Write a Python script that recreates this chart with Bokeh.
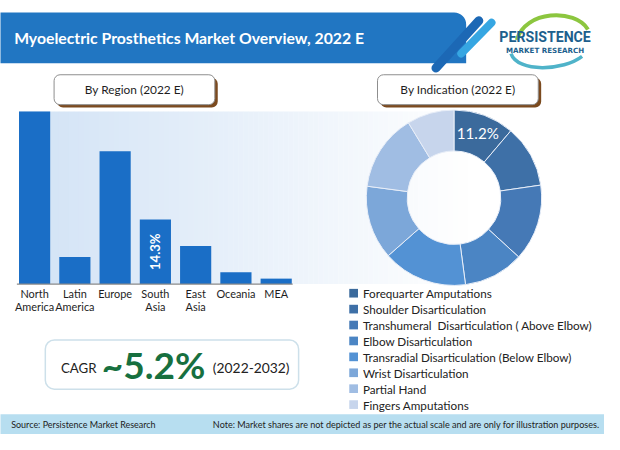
import numpy as np
from bokeh.plotting import figure
from bokeh.models import Range1d
from bokeh.core.properties import value
from bokeh.embed import file_html
from bokeh.resources import INLINE

# ---------------- data ----------------
title_text = "Myoelectric Prosthetics Market Overview, 2022 E"
region_title = "By Region (2022 E)"
indication_title = "By Indication (2022 E)"

regions = ["North America", "Latin America", "Europe", "South Asia", "East Asia", "Oceania", "MEA"]
region_label_lines = [["North", "America"], ["Latin", "America"], ["Europe"], ["South", "Asia"],
                      ["East", "Asia"], ["Oceania"], ["MEA"]]
region_share = [38.2, 6.0, 29.4, 14.3, 8.4, 2.6, 1.2]
region_highlight = "South Asia"

indications = ["Forequarter Amputations", "Shoulder Disarticulation",
               "Transhumeral\u00a0 Disarticulation ( Above Elbow)", "Elbow Disarticulation",
               "Transradial Disarticulation (Below Elbow)", "Wrist Disarticulation",
               "Partial Hand", "Fingers Amputations"]
indication_share = [11.2, 11.5, 14.1, 11.1, 15.6, 13.6, 14.2, 8.7]
indication_colors = ["#3b6a9c", "#3e70a7", "#4579b6", "#4b85c4", "#5392d4", "#7ca7d9", "#a0bde3", "#c7d5ec"]
indication_highlight = 0

cagr_value = "~5.2%"
cagr_period = "(2022-2032)"
source_text = "Source: Persistence Market Research"
note_text = "Note: Market shares are not depicted as per the actual scale and are only for illustration purposes."

FONT = "Lato"
W, H = 620, 450
PW, PH = 604, 434
S = PW / W          # pixel scale of the design


def Y(y):
    return H - y


def fs(px):
    return f"{px * S:.2f}px"


p = figure(width=PW, height=PH, x_range=Range1d(0, W), y_range=Range1d(0, H),
           output_backend="svg", toolbar_location=None, min_border=0)
p.axis.visible = False
p.grid.visible = False
p.outline_line_color = None
p.background_fill_color = "white"
p.border_fill_color = "white"


def txt(x, y, s, size, color="#222222", bold=False, align="left", baseline="middle", angle=0.0,
        font=FONT, **kw):
    p.text(x=[x], y=[Y(y)], text=[s], text_font=value(font), text_font_size=fs(size),
           text_color=color, text_font_style="bold" if bold else "normal",
           text_align=align, text_baseline=baseline, angle=angle, **kw)


# ---------------- header ----------------
p.quad(left=[-5], right=[478], top=[Y(12.5)], bottom=[Y(65)], fill_color="#2176c2",
       line_color=None, border_radius=(0, 12, 0, 0))
p.segment(x0=[447], y0=[Y(70)], x1=[491], y1=[Y(21)], line_color="#1c68b5", line_width=9,
          line_cap="round")
p.segment(x0=[473], y0=[Y(55)], x1=[504], y1=[Y(23)], line_color="#36a6e2", line_width=8,
          line_cap="round")
txt(14, 38.5, title_text, 16.2, color="white", bold=True)

# logo
p.bezier(x0=[530], y0=[Y(41)], x1=[603], y1=[Y(30)], cx0=[538], cy0=[Y(10)], cx1=[590], cy1=[Y(8)],
         line_color="#8cc63f", line_width=4)
p.bezier(x0=[524], y0=[Y(55)], x1=[597], y1=[Y(58)], cx0=[531], cy0=[Y(75)], cx1=[578], cy1=[Y(73)],
         line_color="#4fb3c9", line_width=3.5)
txt(559, 38, "PERSISTENCE", 14.5, color="#1d5f8d", bold=True, align="center", font="Roboto")
txt(559, 51.5, "MARKET RESEARCH", 7.3, color="#1d5f8d", bold=True, align="center", font="DejaVu Sans")

# section title boxes
for (l, r, label) in [(55, 220, region_title), (387, 552, indication_title)]:
    p.quad(left=[l + 3], right=[r + 3], top=[Y(80)], bottom=[Y(111)], fill_color="#7b4a1f",
           line_color=None, border_radius=6)
    p.quad(left=[l], right=[r], top=[Y(77)], bottom=[Y(108)], fill_color="white",
           line_color="#8e8e8e", line_width=1, border_radius=6)
    txt((l + r) / 2, 92, label, 12.2, color="#1e1e1e", align="center")

# gradient panel behind the charts
n = 90
edges = np.linspace(19, 480, n + 1)
c0 = np.array([210, 227, 246])
c1 = np.array([255, 255, 255])
cols = []
for i in range(n):
    t = (i + 0.5) / n
    c = (c0 + (c1 - c0) * t).astype(int)
    cols.append("#%02x%02x%02x" % tuple(c))
p.quad(left=edges[:-1], right=edges[1:] + 0.3, top=Y(115), bottom=Y(294), fill_color=cols,
       line_color=None)

# ---------------- bar chart (own scales) ----------------
PX_PER_PCT = 4.685       # design pixels per percentage point
BASE = Y(294)            # baseline in main coordinates
STEP = 41.33             # design pixels per category
FIRST = 35.0             # centre of first bar
p.extra_y_ranges = {"pct": Range1d((0 - BASE) / PX_PER_PCT, (H - BASE) / PX_PER_PCT)}
p.extra_x_ranges = {"cat": Range1d((0 - FIRST) / STEP, (W - FIRST) / STEP)}

idx = list(range(len(regions)))
p.vbar(x=idx, top=region_share, bottom=0, width=32 / STEP, fill_color="#1a6ec6", line_color=None,
       x_range_name="cat", y_range_name="pct")
p.line(x=[-0.44, len(regions) - 0.59], y=[0, 0], line_color="#8a8a8a", line_width=1.3,
       x_range_name="cat", y_range_name="pct")

lx, ly_off, lt = [], [], []
for i, lines in enumerate(region_label_lines):
    for j, s in enumerate(lines):
        lx.append(i)
        ly_off.append(j)
        lt.append(s)
for row in sorted(set(ly_off)):
    sel = [k for k in range(len(lt)) if ly_off[k] == row]
    p.text(x=[lx[k] for k in sel], y=[0] * len(sel), text=[lt[k] for k in sel],
           text_font=value(FONT), text_font_size=fs(11.2), text_color="#1e1e1e",
           text_align="center", text_baseline="middle", y_offset=(9.5 + 14 * row) * PH / H,
           x_range_name="cat", y_range_name="pct")

hi = regions.index(region_highlight)
p.text(x=[hi], y=[region_share[hi] / 2], text=[f"{region_share[hi]}%"], angle=np.pi / 2,
       text_font=value(FONT), text_font_size=fs(13.5), text_font_style="bold", text_color="white",
       text_align="center", text_baseline="middle", x_range_name="cat", y_range_name="pct")

# ---------------- donut ----------------
CX, CY = 465.5, Y(204.5)
R_OUT, R_IN = 90, 48
shares = np.array(indication_share)
frac = shares / shares.sum()
cum = np.concatenate([[0], np.cumsum(frac)])
start = np.pi / 2 - 2 * np.pi * cum[:-1]
end = np.pi / 2 - 2 * np.pi * cum[1:]
p.annular_wedge(x=CX, y=CY, inner_radius=R_IN, outer_radius=R_OUT, start_angle=start,
                end_angle=end, direction="clock", fill_color=indication_colors,
                line_color="#e8eef8", line_width=1)
mid = (start[indication_highlight] + end[indication_highlight]) / 2
rm = (R_IN + R_OUT) / 2 + 2
p.text(x=[CX + rm * np.cos(mid)], y=[CY + rm * np.sin(mid)],
       text=[f"{indication_share[indication_highlight]}%"], text_font=value(FONT),
       text_font_size=fs(15.5), text_color="white", text_align="center", text_baseline="middle")

# legend
LY0, LDY = 303.5, 16.5
for i, (name, col) in enumerate(zip(indications, indication_colors)):
    yy = LY0 + LDY * i
    p.quad(left=[358], right=[367], top=[Y(yy - 4.5)], bottom=[Y(yy + 4.5)], fill_color=col,
           line_color=None)
    txt(372, yy, name, 12, color="#222222")

# ---------------- CAGR box ----------------
p.quad(left=[46], right=[306], top=[Y(352)], bottom=[Y(403)], fill_color="white",
       line_color="#cde0ea", line_width=1.5, border_radius=9)
txt(62, 381, "CAGR", 13.6, color="#222222")
txt(104, 377, cagr_value, 38, color="#17703f", bold=True)
txt(218, 381, cagr_period, 14.2, color="#222222")

# ---------------- footer ----------------
p.quad(left=[-5], right=[625], top=[Y(429)], bottom=[Y(455)], fill_color="#b7def0", line_color=None)
txt(11, 439.5, source_text, 9.2, color="#222222")
txt(218, 439.5, note_text, 9.3, color="#222222")

open("out.html", "w").write(file_html(p, INLINE))
